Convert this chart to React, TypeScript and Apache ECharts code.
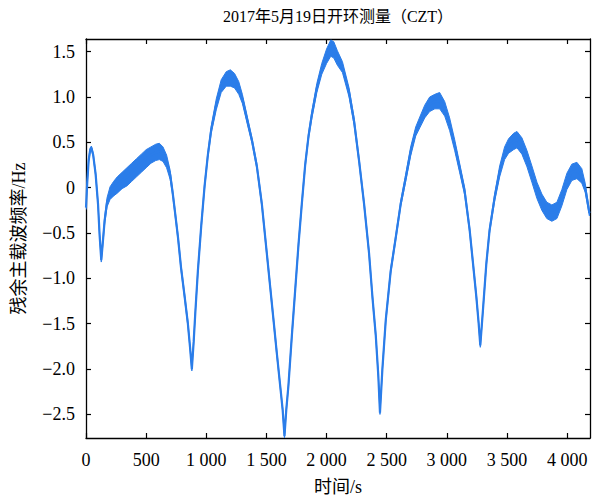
import React, { useEffect, useRef } from 'react';
import * as echarts from 'echarts';

// time (s)
const times = [
  0, 10, 22, 35, 45, 60, 80, 100, 113, 127,
  140, 155, 175, 200, 230, 260, 300, 340, 380, 420,
  460, 500, 540, 580, 610, 640, 670, 700, 720, 740,
  765, 790, 820, 847, 865, 880, 895, 910, 930, 958,
  986, 1013, 1041, 1083, 1124, 1166, 1200, 1235, 1270, 1300,
  1345, 1380, 1420, 1462, 1503, 1531, 1559, 1586, 1614, 1635,
  1650, 1665, 1683, 1711, 1739, 1767, 1794, 1822, 1850, 1877,
  1919, 1960, 2000, 2035, 2060, 2090, 2132, 2187, 2229, 2270,
  2312, 2353, 2381, 2409, 2430, 2444, 2464, 2492, 2533, 2575,
  2616, 2658, 2699, 2741, 2775, 2816, 2857, 2900, 2940, 2982,
  3023, 3065, 3106, 3148, 3189, 3217, 3245, 3264, 3278, 3300,
  3328, 3355, 3397, 3439, 3480, 3513, 3555, 3583, 3624, 3666,
  3707, 3749, 3790, 3831, 3873, 3915, 3956, 3998, 4039, 4081,
  4122, 4150, 4185,
];

// residual main carrier frequency (Hz), centre of the trace
const residual = [
  -0.22, 0.05, 0.30, 0.42, 0.44, 0.36, 0.15, -0.18, -0.52, -0.80,
  -0.60, -0.36, -0.16, -0.06, -0.01, 0.03, 0.08, 0.12, 0.17, 0.22,
  0.27, 0.32, 0.36, 0.39, 0.40, 0.37, 0.29, 0.14, -0.05, -0.27,
  -0.55, -0.88, -1.20, -1.50, -1.76, -2.00, -1.70, -1.35, -0.92, -0.42,
  0.02, 0.36, 0.64, 0.92, 1.12, 1.20, 1.21, 1.18, 1.10, 0.98,
  0.72, 0.52, 0.24, -0.18, -0.72, -1.09, -1.46, -1.82, -2.18, -2.45,
  -2.74, -2.45, -2.18, -1.64, -1.13, -0.62, -0.18, 0.25, 0.57, 0.80,
  1.10, 1.31, 1.45, 1.54, 1.52, 1.43, 1.33, 1.05, 0.73, 0.30,
  -0.18, -0.72, -1.20, -1.63, -2.07, -2.48, -2.00, -1.46, -0.92, -0.55,
  -0.18, 0.11, 0.40, 0.62, 0.72, 0.84, 0.92, 0.95, 0.96, 0.87,
  0.70, 0.47, 0.22, -0.04, -0.46, -0.83, -1.20, -1.49, -1.74, -1.35,
  -0.84, -0.47, -0.11, 0.18, 0.38, 0.46, 0.51, 0.53, 0.46, 0.32,
  0.15, -0.03, -0.16, -0.25, -0.28, -0.25, -0.11, 0.07, 0.17, 0.19,
  0.13, 0.00, -0.28,
];

// half-width of the noise band around the trace (Hz)
const noise = [
  0.02, 0.02, 0.02, 0.02, 0.02, 0.02, 0.02, 0.02, 0.02, 0.02,
  0.03, 0.04, 0.05, 0.07, 0.08, 0.09, 0.09, 0.10, 0.10, 0.10,
  0.10, 0.10, 0.09, 0.09, 0.09, 0.08, 0.07, 0.05, 0.03, 0.03,
  0.03, 0.03, 0.03, 0.03, 0.02, 0.02, 0.02, 0.02, 0.03, 0.03,
  0.03, 0.03, 0.04, 0.06, 0.07, 0.08, 0.09, 0.08, 0.07, 0.05,
  0.04, 0.03, 0.03, 0.03, 0.03, 0.03, 0.03, 0.03, 0.02, 0.02,
  0.02, 0.02, 0.02, 0.03, 0.03, 0.03, 0.03, 0.03, 0.03, 0.04,
  0.05, 0.06, 0.08, 0.09, 0.09, 0.08, 0.06, 0.05, 0.04, 0.03,
  0.03, 0.03, 0.03, 0.03, 0.02, 0.02, 0.02, 0.03, 0.03, 0.03,
  0.03, 0.04, 0.05, 0.05, 0.06, 0.07, 0.08, 0.08, 0.09, 0.08,
  0.07, 0.06, 0.05, 0.04, 0.03, 0.03, 0.03, 0.02, 0.02, 0.02,
  0.03, 0.03, 0.04, 0.06, 0.07, 0.08, 0.09, 0.09, 0.09, 0.09,
  0.09, 0.09, 0.09, 0.09, 0.09, 0.09, 0.09, 0.09, 0.09, 0.09,
  0.08, 0.05, 0.03,
];

const xTicks = [0, 500, 1000, 1500, 2000, 2500, 3000, 3500, 4000];
const yTicks = [-2.5, -2.0, -1.5, -1.0, -0.5, 0, 0.5, 1.0, 1.5];
const X_MIN = 0;
const X_MAX = 4190;
const Y_MIN = -2.76;
const Y_MAX = 1.64;

const TITLE = '2017年5月19日开环测量（CZT）';
const X_NAME = '时间/s';
const Y_NAME = '残余主载波频率/Hz';

const BLUE = '#2b7de9';
const FONT = "'Liberation Serif', 'Times New Roman', 'Noto Sans CJK SC', serif";
const NUM_FONT = 'Liberation Serif';

const fmtX = (v: number) => {
  let s = String(v);
  if (v >= 1000) {
    const th = Math.floor(v / 1000);
    const rest = String(Math.round(v % 1000)).padStart(3, '0');
    s = `${th} ${rest}`;
  }
  return `{n|${s}}`;
};
const fmtY = (v: number) => {
  const s = Math.abs(v) < 1e-9 ? '0' : (v < 0 ? '\u2212' : '') + Math.abs(v).toFixed(1);
  return `{n|${s}}`;
};

export default function App() {
  const ref = useRef<HTMLDivElement>(null);
  useEffect(() => {
    if (!ref.current) return;
    const chart = echarts.init(ref.current, undefined, { renderer: 'svg' });
    const axisLine = { show: true, onZero: false, lineStyle: { color: '#000', width: 1.3 } };
    const tick = { show: true, inside: true, length: 5, lineStyle: { color: '#000', width: 1.2 } };
    const centre = times.map((t, i) => [t, residual[i]]);
    const labelStyle = { fontFamily: FONT, fontSize: 18, color: '#000', fontWeight: 'normal' };
    const rich = { n: { fontFamily: NUM_FONT, fontSize: 18, color: '#000' } };
    chart.setOption({
      animation: false,
      backgroundColor: '#fff',
      textStyle: { fontFamily: FONT },
      grid: { left: 86, right: 4, top: 39, bottom: 63, containLabel: false },
      graphic: [
        {
          type: 'text',
          x: 338,
          y: 8,
          style: {
            text: TITLE,
            textAlign: 'center',
            textVerticalAlign: 'top',
            fontFamily: FONT,
            fontSize: 16,
            fill: '#000',
          },
        },
      ],
      xAxis: [
        {
          type: 'value',
          min: X_MIN,
          max: X_MAX,
          position: 'bottom',
          axisLine,
          axisTick: { ...tick, customValues: xTicks },
          axisLabel: {
            customValues: xTicks,
            formatter: fmtX,
            margin: 13,
            fontFamily: NUM_FONT,
            fontSize: 18,
            color: '#000',
            rich,
          },
          splitLine: { show: false },
          name: X_NAME,
          nameLocation: 'middle',
          nameGap: 40,
          nameTextStyle: labelStyle,
        },
        {
          type: 'value',
          min: X_MIN,
          max: X_MAX,
          position: 'top',
          axisLine,
          axisTick: { ...tick, customValues: xTicks },
          axisLabel: { show: false },
          splitLine: { show: false },
        },
      ],
      yAxis: [
        {
          type: 'value',
          min: Y_MIN,
          max: Y_MAX,
          position: 'left',
          axisLine,
          axisTick: { ...tick, customValues: yTicks },
          axisLabel: {
            customValues: yTicks,
            formatter: fmtY,
            margin: 11,
            fontFamily: NUM_FONT,
            fontSize: 18,
            color: '#000',
            rich,
          },
          splitLine: { show: false },
          name: Y_NAME,
          nameLocation: 'middle',
          nameGap: 58,
          nameTextStyle: labelStyle,
        },
        {
          type: 'value',
          min: Y_MIN,
          max: Y_MAX,
          position: 'right',
          axisLine,
          axisTick: { ...tick, customValues: yTicks },
          axisLabel: { show: false },
          splitLine: { show: false },
        },
      ],
      series: [
        {
          name: 'noise band',
          type: 'custom',
          coordinateSystem: 'cartesian2d',
          clip: true,
          silent: true,
          data: [[times[0], residual[0]]],
          renderItem: (_params: any, api: any) => {
            const pts: number[][] = [];
            for (let i = 0; i < times.length; i++) {
              pts.push(api.coord([times[i], residual[i] + noise[i]]));
            }
            for (let i = times.length - 1; i >= 0; i--) {
              pts.push(api.coord([times[i], residual[i] - noise[i]]));
            }
            return {
              type: 'polygon',
              shape: { points: pts },
              style: { fill: BLUE, stroke: BLUE, lineWidth: 1 },
            };
          },
        },
        {
          name: 'residual',
          type: 'line',
          data: centre,
          symbol: 'none',
          silent: true,
          lineStyle: { width: 2.2, color: BLUE },
        },
      ],
    });
    return () => chart.dispose();
  }, []);
  return (
    <div
      ref={ref}
      style={{ position: 'absolute', left: 0, top: 0, width: 594, height: 501, background: '#fff' }}
    />
  );
}
